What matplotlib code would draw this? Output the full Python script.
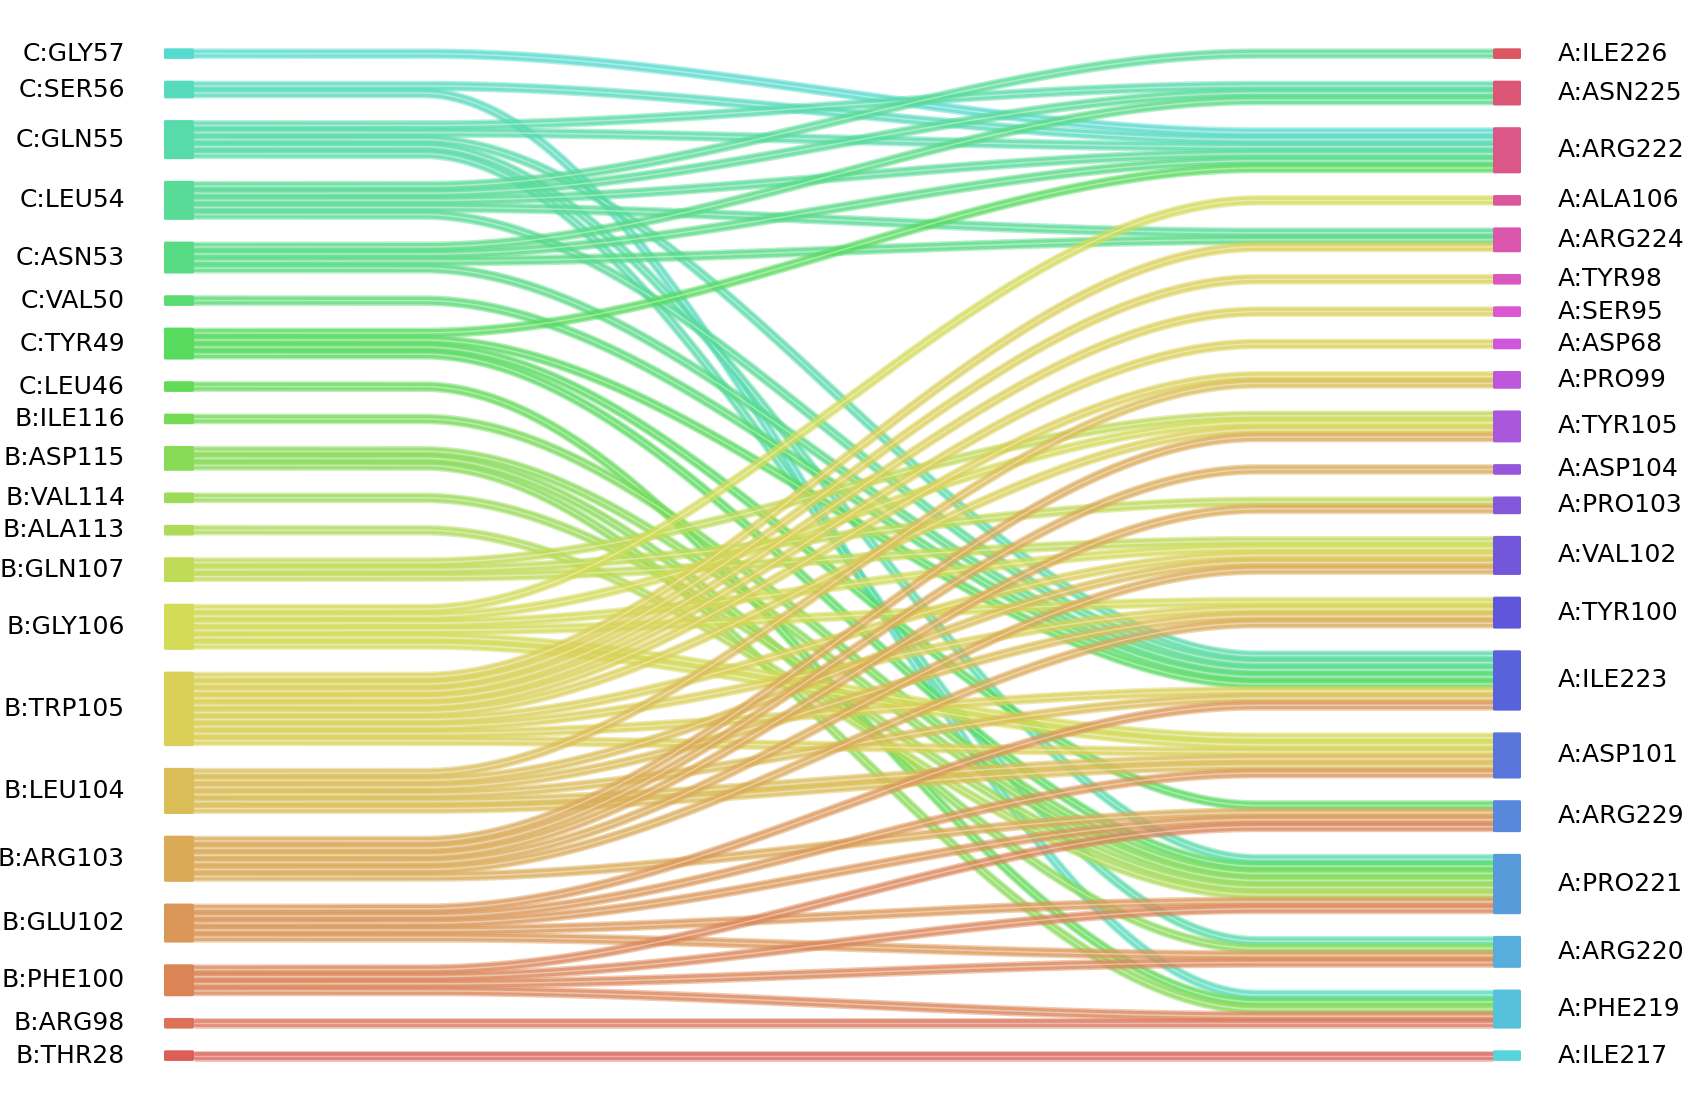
import numpy as np
import matplotlib
matplotlib.use('Agg')
import matplotlib.pyplot as plt
from matplotlib.patches import FancyBboxPatch
import seaborn as sns

# nodes, top to bottom
left_nodes = ['C:GLY57', 'C:SER56', 'C:GLN55', 'C:LEU54', 'C:ASN53', 'C:VAL50', 'C:TYR49',
              'C:LEU46', 'B:ILE116', 'B:ASP115', 'B:VAL114', 'B:ALA113', 'B:GLN107',
              'B:GLY106', 'B:TRP105', 'B:LEU104', 'B:ARG103', 'B:GLU102', 'B:PHE100',
              'B:ARG98', 'B:THR28']
right_nodes = ['A:ILE226', 'A:ASN225', 'A:ARG222', 'A:ALA106', 'A:ARG224', 'A:TYR98',
               'A:SER95', 'A:ASP68', 'A:PRO99', 'A:TYR105', 'A:ASP104', 'A:PRO103',
               'A:VAL102', 'A:TYR100', 'A:ILE223', 'A:ASP101', 'A:ARG229', 'A:PRO221',
               'A:ARG220', 'A:PHE219', 'A:ILE217']

# contacts (source, target, count)
link_src = ['C:GLY57',
            'C:SER56', 'C:SER56',
            'C:GLN55', 'C:GLN55', 'C:GLN55', 'C:GLN55', 'C:GLN55',
            'C:LEU54', 'C:LEU54', 'C:LEU54', 'C:LEU54', 'C:LEU54',
            'C:ASN53', 'C:ASN53', 'C:ASN53', 'C:ASN53',
            'C:VAL50',
            'C:TYR49', 'C:TYR49', 'C:TYR49', 'C:TYR49',
            'C:LEU46',
            'B:ILE116',
            'B:ASP115', 'B:ASP115', 'B:ASP115',
            'B:VAL114',
            'B:ALA113',
            'B:GLN107', 'B:GLN107', 'B:GLN107',
            'B:GLY106', 'B:GLY106', 'B:GLY106', 'B:GLY106', 'B:GLY106',
            'B:TRP105', 'B:TRP105', 'B:TRP105', 'B:TRP105', 'B:TRP105',
            'B:TRP105', 'B:TRP105', 'B:TRP105', 'B:TRP105', 'B:TRP105',
            'B:LEU104', 'B:LEU104', 'B:LEU104', 'B:LEU104', 'B:LEU104',
            'B:ARG103', 'B:ARG103', 'B:ARG103', 'B:ARG103', 'B:ARG103', 'B:ARG103',
            'B:GLU102', 'B:GLU102', 'B:GLU102', 'B:GLU102', 'B:GLU102',
            'B:PHE100', 'B:PHE100', 'B:PHE100', 'B:PHE100',
            'B:ARG98',
            'B:THR28']
link_dst = ['A:ARG222',
            'A:ARG222', 'A:PHE219',
            'A:ASN225', 'A:ARG222', 'A:ILE223', 'A:PRO221', 'A:ARG220',
            'A:ILE226', 'A:ASN225', 'A:ARG222', 'A:ARG224', 'A:ILE223',
            'A:ASN225', 'A:ARG222', 'A:ARG224', 'A:ILE223',
            'A:ILE223',
            'A:ARG222', 'A:ILE223', 'A:ARG229', 'A:PRO221',
            'A:PHE219',
            'A:PRO221',
            'A:PRO221', 'A:ARG220', 'A:PHE219',
            'A:PRO221',
            'A:PRO221',
            'A:TYR105', 'A:PRO103', 'A:VAL102',
            'A:ALA106', 'A:TYR105', 'A:VAL102', 'A:TYR100', 'A:ASP101',
            'A:ARG224', 'A:TYR98', 'A:SER95', 'A:ASP68', 'A:PRO99',
            'A:TYR105', 'A:VAL102', 'A:TYR100', 'A:ILE223', 'A:ASP101',
            'A:PRO99', 'A:VAL102', 'A:TYR100', 'A:ILE223', 'A:ASP101',
            'A:TYR105', 'A:ASP104', 'A:PRO103', 'A:VAL102', 'A:TYR100', 'A:ARG229',
            'A:ILE223', 'A:ASP101', 'A:ARG229', 'A:PRO221', 'A:ARG220',
            'A:ARG229', 'A:PRO221', 'A:ARG220', 'A:PHE219',
            'A:PHE219',
            'A:ILE217']
link_n = [1,
          1, 1,
          1, 1, 1, 1, 1,
          1, 1, 1, 1, 1,
          1, 1, 1, 1,
          1,
          1, 1, 1, 1,
          1,
          1,
          1, 1, 1,
          1,
          1,
          1, 1, 1,
          1, 1, 1, 1, 2,
          1, 1, 1, 1, 1,
          1, 1, 1, 1, 1,
          1, 1, 1, 1, 2,
          1, 1, 1, 1, 1, 1,
          1, 1, 1, 1, 1,
          1, 1, 1, 1,
          1,
          1]

# layout (pixels)
u = 3.55          # half a contact strand
gap = 21.7
y_start = 48.3
xl0, xl1 = 164, 194
xr0, xr1 = 1493, 1521
xc0, xc1 = 423, 1257

lidx = {n: i for i, n in enumerate(left_nodes)}
ridx = {n: i for i, n in enumerate(right_nodes)}

units = []
for s, d, n in zip(link_src, link_dst, link_n):
    for k in range(n):
        units.append((s, d))

lcount = {n: 0 for n in left_nodes}
rcount = {n: 0 for n in right_nodes}
for s, d in units:
    lcount[s] += 1
    rcount[d] += 1


def stack(names, counts):
    tops = {}
    y = y_start
    for nm in names:
        tops[nm] = y
        y += (2 * counts[nm] + 1) * u + gap
    return tops


ltop = stack(left_nodes, lcount)
rtop = stack(right_nodes, rcount)

# order strands: by target on the left, by source on the right
lslot = {}
for nm in left_nodes:
    mine = sorted([i for i, (s, d) in enumerate(units) if s == nm], key=lambda i: (ridx[units[i][1]], i))
    for k, i in enumerate(mine):
        lslot[i] = k
rslot = {}
for nm in right_nodes:
    mine = sorted([i for i, (s, d) in enumerate(units) if d == nm], key=lambda i: (lidx[units[i][0]], i))
    for k, i in enumerate(mine):
        rslot[i] = k

pal = sns.color_palette('hls', 42)
lcol = {n: pal[20 - i] for i, n in enumerate(left_nodes)}
rcol = {n: pal[41 - i] for i, n in enumerate(right_nodes)}

fig = plt.figure(figsize=(16.84, 11.08), dpi=100)
ax = fig.add_axes([0, 0, 1, 1])
ax.set_xlim(0, 1684)
ax.set_ylim(1108, 0)
ax.axis('off')

lw = 3 * u * 72 / 100
t = np.linspace(0, 1, 150)
sm = 3 * t ** 2 - 2 * t ** 3
xs = np.concatenate([[xl1], xc0 + (xc1 - xc0) * t, [xr0]])
for i, (s, d) in enumerate(units):
    ya = ltop[s] + 2 * u * lslot[i] + 1.5 * u
    yb = rtop[d] + 2 * u * rslot[i] + 1.5 * u
    ys = np.concatenate([[ya], ya + (yb - ya) * sm, [yb]])
    c = lcol[s]
    ax.plot(xs, ys, color=c, lw=lw, alpha=0.45, solid_capstyle='butt', zorder=2)
    ax.plot(xs, ys, color=c, lw=lw * 0.72, alpha=0.65, solid_capstyle='butt', zorder=2)
    ax.plot(xs, ys, color='white', lw=lw * 0.14, alpha=0.4, solid_capstyle='butt', zorder=2)

for nm in left_nodes:
    h = (2 * lcount[nm] + 1) * u
    ax.add_patch(FancyBboxPatch((xl0, ltop[nm]), xl1 - xl0, h, boxstyle='round,pad=0,rounding_size=1.5',
                                fc=lcol[nm], ec='none', zorder=3))
    ax.text(125, ltop[nm] + h / 2, nm, ha='right', va='center', fontsize=18)
for nm in right_nodes:
    h = (2 * rcount[nm] + 1) * u
    ax.add_patch(FancyBboxPatch((xr0, rtop[nm]), xr1 - xr0, h, boxstyle='round,pad=0,rounding_size=1.5',
                                fc=rcol[nm], ec='none', zorder=3))
    ax.text(1558, rtop[nm] + h / 2, nm, ha='left', va='center', fontsize=18)

fig.savefig('out.png', dpi=100)
